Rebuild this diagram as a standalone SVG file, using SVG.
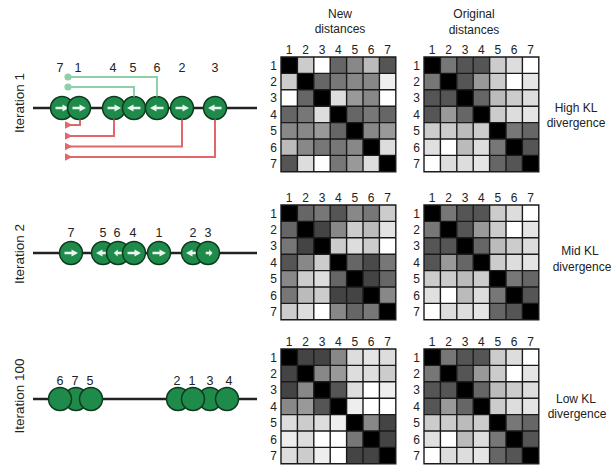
<svg xmlns="http://www.w3.org/2000/svg" xmlns:xlink="http://www.w3.org/1999/xlink" width="611" height="465" viewBox="0 0 611 465">
<style>
text{font-family:"Liberation Sans",Arial,sans-serif;fill:#222}
.lbl{font-size:12.5px;text-anchor:middle}
.num{font-size:12px;text-anchor:middle}
.rn{font-size:12px;text-anchor:end}
.ttl{font-size:12px;text-anchor:middle}
.it{font-size:13.5px;text-anchor:middle}
.axis{stroke:#222;stroke-width:2.5}
.node{fill:#1f8b4b;stroke:#0e3a1e;stroke-width:1.5}
.arw{fill:#e8f4ec}
.gl{fill:none;stroke:#8fd0a8;stroke-width:2}
.rl{fill:none;stroke:#e0676a;stroke-width:2}
.grid{fill:none;stroke:#1a1a1a;stroke-width:1.4}
</style>
<defs>
<rect id="q" width="16.4" height="16.4"/>
<path id="ar" class="arw" d="M-6.5,-1.2 H0.5 V-3.6 L7,0 L0.5,3.6 V1.2 H-6.5 Z"/>
<path id="grid" class="grid" d="M0,0 H114.8 V114.8 H0 Z M16.4,0 V114.8 M32.8,0 V114.8 M49.2,0 V114.8 M65.6,0 V114.8 M82,0 V114.8 M98.4,0 V114.8 M0,16.4 H114.8 M0,32.8 H114.8 M0,49.2 H114.8 M0,65.6 H114.8 M0,82 H114.8 M0,98.4 H114.8"/>
<g id="labels">
<text class="num" x="8.2" y="-3.5">1</text><text class="num" x="24.6" y="-3.5">2</text><text class="num" x="41" y="-3.5">3</text><text class="num" x="57.4" y="-3.5">4</text><text class="num" x="73.8" y="-3.5">5</text><text class="num" x="90.2" y="-3.5">6</text><text class="num" x="106.6" y="-3.5">7</text>
<text class="rn" x="-4" y="12.5">1</text><text class="rn" x="-4" y="28.9">2</text><text class="rn" x="-4" y="45.3">3</text><text class="rn" x="-4" y="61.7">4</text><text class="rn" x="-4" y="78.1">5</text><text class="rn" x="-4" y="94.5">6</text><text class="rn" x="-4" y="110.9">7</text>
</g>
<g id="orig">
<use href="#q" x="0" y="0" fill="#000"/><use href="#q" x="16.4" y="0" fill="#777"/><use href="#q" x="32.8" y="0" fill="#555"/><use href="#q" x="49.2" y="0" fill="#555"/><use href="#q" x="65.6" y="0" fill="#ccc"/><use href="#q" x="82" y="0" fill="#ddd"/><use href="#q" x="98.4" y="0" fill="#fff"/>
<use href="#q" x="0" y="16.4" fill="#777"/><use href="#q" x="16.4" y="16.4" fill="#000"/><use href="#q" x="32.8" y="16.4" fill="#555"/><use href="#q" x="49.2" y="16.4" fill="#999"/><use href="#q" x="65.6" y="16.4" fill="#ccc"/><use href="#q" x="82" y="16.4" fill="#fff"/><use href="#q" x="98.4" y="16.4" fill="#e5e5e5"/>
<use href="#q" x="0" y="32.8" fill="#555"/><use href="#q" x="16.4" y="32.8" fill="#555"/><use href="#q" x="32.8" y="32.8" fill="#000"/><use href="#q" x="49.2" y="32.8" fill="#666"/><use href="#q" x="65.6" y="32.8" fill="#bbb"/><use href="#q" x="82" y="32.8" fill="#ccc"/><use href="#q" x="98.4" y="32.8" fill="#ddd"/>
<use href="#q" x="0" y="49.2" fill="#555"/><use href="#q" x="16.4" y="49.2" fill="#999"/><use href="#q" x="32.8" y="49.2" fill="#666"/><use href="#q" x="49.2" y="49.2" fill="#000"/><use href="#q" x="65.6" y="49.2" fill="#ccc"/><use href="#q" x="82" y="49.2" fill="#ddd"/><use href="#q" x="98.4" y="49.2" fill="#e5e5e5"/>
<use href="#q" x="0" y="65.6" fill="#ccc"/><use href="#q" x="16.4" y="65.6" fill="#ccc"/><use href="#q" x="32.8" y="65.6" fill="#bbb"/><use href="#q" x="49.2" y="65.6" fill="#ccc"/><use href="#q" x="65.6" y="65.6" fill="#000"/><use href="#q" x="82" y="65.6" fill="#777"/><use href="#q" x="98.4" y="65.6" fill="#666"/>
<use href="#q" x="0" y="82" fill="#e0e0e0"/><use href="#q" x="16.4" y="82" fill="#fff"/><use href="#q" x="32.8" y="82" fill="#bbb"/><use href="#q" x="49.2" y="82" fill="#ddd"/><use href="#q" x="65.6" y="82" fill="#777"/><use href="#q" x="82" y="82" fill="#000"/><use href="#q" x="98.4" y="82" fill="#555"/>
<use href="#q" x="0" y="98.4" fill="#fff"/><use href="#q" x="16.4" y="98.4" fill="#ddd"/><use href="#q" x="32.8" y="98.4" fill="#ddd"/><use href="#q" x="49.2" y="98.4" fill="#e5e5e5"/><use href="#q" x="65.6" y="98.4" fill="#666"/><use href="#q" x="82" y="98.4" fill="#555"/><use href="#q" x="98.4" y="98.4" fill="#000"/>
<use href="#grid"/>
<use href="#labels"/>
</g>
</defs>

<text class="ttl" x="340" y="18">New</text>
<text class="ttl" x="340" y="33">distances</text>
<text class="ttl" x="474" y="18">Original</text>
<text class="ttl" x="474" y="34">distances</text>

<!-- Iteration 1 -->
<g id="iteration1">
<text class="it" transform="translate(24,103) rotate(-90)">Iteration 1</text>
<line class="axis" x1="33" y1="108" x2="257" y2="108"/>
<g id="it1-n7"><circle class="node" cx="62" cy="108" r="11.5"/><use href="#ar" transform="translate(62,108)"/><text class="lbl" x="60" y="72">7</text></g>
<g id="it1-n1"><circle class="node" cx="79" cy="108" r="11.5"/><use href="#ar" transform="translate(79,108)"/><text class="lbl" x="78" y="72">1</text></g>
<g id="it1-n4"><circle class="node" cx="114" cy="108" r="11.5"/><use href="#ar" transform="translate(114,108)"/><text class="lbl" x="113" y="72">4</text></g>
<g id="it1-n5"><circle class="node" cx="134" cy="108" r="11.5"/><use href="#ar" transform="translate(134,108) scale(-1,1)"/><text class="lbl" x="133" y="72">5</text></g>
<g id="it1-n6"><circle class="node" cx="157" cy="108" r="11.5"/><use href="#ar" transform="translate(157,108) scale(-1,1)"/><text class="lbl" x="157" y="72">6</text></g>
<g id="it1-n2"><circle class="node" cx="182" cy="108" r="11.5"/><use href="#ar" transform="translate(182,108)"/><text class="lbl" x="182" y="72">2</text></g>
<g id="it1-n3"><circle class="node" cx="215" cy="108" r="11.5"/><use href="#ar" transform="translate(215,108) scale(-1,1)"/><text class="lbl" x="215" y="72">3</text></g>
</g>
<g id="connectors">
<path class="gl" d="M68,77 H157 V96.5 M68,87 H134 V96.5"/>
<circle cx="68" cy="77" r="3.6" fill="#8fd0a8"/>
<circle cx="68" cy="87" r="3.6" fill="#8fd0a8"/>
<path class="rl" d="M70,125 H80 V119.5 M70,136 H114 V119.5 M70,146.5 H182 V119.5 M70,157 H215 V119.5"/>
<g fill="#e0676a">
<polygon points="65,121.3 72.5,125 65,128.7"/>
<polygon points="65,132.3 72.5,136 65,139.7"/>
<polygon points="65,142.8 72.5,146.5 65,150.2"/>
<polygon points="65,153.3 72.5,157 65,160.7"/>
</g>
</g>
<g id="matrix-new-1" transform="translate(281,57)">
<use href="#q" x="0" y="0" fill="#000"/><use href="#q" x="16.4" y="0" fill="#ccc"/><use href="#q" x="32.8" y="0" fill="#fff"/><use href="#q" x="49.2" y="0" fill="#666"/><use href="#q" x="65.6" y="0" fill="#888"/><use href="#q" x="82" y="0" fill="#bbb"/><use href="#q" x="98.4" y="0" fill="#555"/>
<use href="#q" x="0" y="16.4" fill="#ccc"/><use href="#q" x="16.4" y="16.4" fill="#000"/><use href="#q" x="32.8" y="16.4" fill="#666"/><use href="#q" x="49.2" y="16.4" fill="#777"/><use href="#q" x="65.6" y="16.4" fill="#888"/><use href="#q" x="82" y="16.4" fill="#888"/><use href="#q" x="98.4" y="16.4" fill="#eee"/>
<use href="#q" x="0" y="32.8" fill="#fff"/><use href="#q" x="16.4" y="32.8" fill="#666"/><use href="#q" x="32.8" y="32.8" fill="#000"/><use href="#q" x="49.2" y="32.8" fill="#ddd"/><use href="#q" x="65.6" y="32.8" fill="#999"/><use href="#q" x="82" y="32.8" fill="#888"/><use href="#q" x="98.4" y="32.8" fill="#fff"/>
<use href="#q" x="0" y="49.2" fill="#666"/><use href="#q" x="16.4" y="49.2" fill="#777"/><use href="#q" x="32.8" y="49.2" fill="#ddd"/><use href="#q" x="49.2" y="49.2" fill="#000"/><use href="#q" x="65.6" y="49.2" fill="#666"/><use href="#q" x="82" y="49.2" fill="#777"/><use href="#q" x="98.4" y="49.2" fill="#666"/>
<use href="#q" x="0" y="65.6" fill="#888"/><use href="#q" x="16.4" y="65.6" fill="#888"/><use href="#q" x="32.8" y="65.6" fill="#999"/><use href="#q" x="49.2" y="65.6" fill="#666"/><use href="#q" x="65.6" y="65.6" fill="#000"/><use href="#q" x="82" y="65.6" fill="#888"/><use href="#q" x="98.4" y="65.6" fill="#999"/>
<use href="#q" x="0" y="82" fill="#bbb"/><use href="#q" x="16.4" y="82" fill="#888"/><use href="#q" x="32.8" y="82" fill="#777"/><use href="#q" x="49.2" y="82" fill="#777"/><use href="#q" x="65.6" y="82" fill="#888"/><use href="#q" x="82" y="82" fill="#000"/><use href="#q" x="98.4" y="82" fill="#ddd"/>
<use href="#q" x="0" y="98.4" fill="#555"/><use href="#q" x="16.4" y="98.4" fill="#ddd"/><use href="#q" x="32.8" y="98.4" fill="#fff"/><use href="#q" x="49.2" y="98.4" fill="#777"/><use href="#q" x="65.6" y="98.4" fill="#999"/><use href="#q" x="82" y="98.4" fill="#ddd"/><use href="#q" x="98.4" y="98.4" fill="#000"/>
<use href="#grid"/>
<use href="#labels"/>
</g>
<g id="matrix-orig-1" transform="translate(424,57)"><use href="#orig"/></g>
<text class="ttl" x="576" y="112">High KL</text>
<text class="ttl" x="576" y="127">divergence</text>

<!-- Iteration 2 -->
<g id="iteration2">
<text class="it" transform="translate(24,254) rotate(-90)">Iteration 2</text>
<line class="axis" x1="33" y1="253" x2="257" y2="253"/>
<g id="it2-n7"><circle class="node" cx="71" cy="253" r="11.5"/><use href="#ar" transform="translate(71,253)"/><text class="lbl" x="71" y="237">7</text></g>
<g id="it2-n5"><circle class="node" cx="103" cy="253" r="11.5"/><use href="#ar" transform="translate(103,253) scale(-1,1)"/><text class="lbl" x="103" y="237">5</text></g>
<g id="it2-n6"><circle class="node" cx="118" cy="253" r="11.5"/><use href="#ar" transform="translate(118,253) scale(-0.6,1)"/><text class="lbl" x="117" y="237">6</text></g>
<g id="it2-n4"><circle class="node" cx="134" cy="253" r="11.5"/><use href="#ar" transform="translate(134,253)"/><text class="lbl" x="133" y="237">4</text></g>
<g id="it2-n1"><circle class="node" cx="159" cy="253" r="11.5"/><use href="#ar" transform="translate(159,253)"/><text class="lbl" x="159" y="237">1</text></g>
<g id="it2-n2"><circle class="node" cx="193" cy="253" r="11.5"/><use href="#ar" transform="translate(193,253) scale(-1,1)"/><text class="lbl" x="193" y="237">2</text></g>
<g id="it2-n3"><circle class="node" cx="208" cy="253" r="11.5"/><use href="#ar" transform="translate(209,253) scale(0.5,1)"/><text class="lbl" x="208" y="237">3</text></g>
</g>
<g id="matrix-new-2" transform="translate(281,205)">
<use href="#q" x="0" y="0" fill="#000"/><use href="#q" x="16.4" y="0" fill="#666"/><use href="#q" x="32.8" y="0" fill="#777"/><use href="#q" x="49.2" y="0" fill="#555"/><use href="#q" x="65.6" y="0" fill="#888"/><use href="#q" x="82" y="0" fill="#777"/><use href="#q" x="98.4" y="0" fill="#ccc"/>
<use href="#q" x="0" y="16.4" fill="#666"/><use href="#q" x="16.4" y="16.4" fill="#000"/><use href="#q" x="32.8" y="16.4" fill="#444"/><use href="#q" x="49.2" y="16.4" fill="#888"/><use href="#q" x="65.6" y="16.4" fill="#ccc"/><use href="#q" x="82" y="16.4" fill="#bbb"/><use href="#q" x="98.4" y="16.4" fill="#e3e3e3"/>
<use href="#q" x="0" y="32.8" fill="#777"/><use href="#q" x="16.4" y="32.8" fill="#444"/><use href="#q" x="32.8" y="32.8" fill="#000"/><use href="#q" x="49.2" y="32.8" fill="#ccc"/><use href="#q" x="65.6" y="32.8" fill="#ddd"/><use href="#q" x="82" y="32.8" fill="#ccc"/><use href="#q" x="98.4" y="32.8" fill="#fff"/>
<use href="#q" x="0" y="49.2" fill="#555"/><use href="#q" x="16.4" y="49.2" fill="#888"/><use href="#q" x="32.8" y="49.2" fill="#ccc"/><use href="#q" x="49.2" y="49.2" fill="#000"/><use href="#q" x="65.6" y="49.2" fill="#666"/><use href="#q" x="82" y="49.2" fill="#4a4a4a"/><use href="#q" x="98.4" y="49.2" fill="#777"/>
<use href="#q" x="0" y="65.6" fill="#888"/><use href="#q" x="16.4" y="65.6" fill="#ccc"/><use href="#q" x="32.8" y="65.6" fill="#ddd"/><use href="#q" x="49.2" y="65.6" fill="#666"/><use href="#q" x="65.6" y="65.6" fill="#000"/><use href="#q" x="82" y="65.6" fill="#444"/><use href="#q" x="98.4" y="65.6" fill="#666"/>
<use href="#q" x="0" y="82" fill="#777"/><use href="#q" x="16.4" y="82" fill="#bbb"/><use href="#q" x="32.8" y="82" fill="#ccc"/><use href="#q" x="49.2" y="82" fill="#444"/><use href="#q" x="65.6" y="82" fill="#444"/><use href="#q" x="82" y="82" fill="#000"/><use href="#q" x="98.4" y="82" fill="#888"/>
<use href="#q" x="0" y="98.4" fill="#ccc"/><use href="#q" x="16.4" y="98.4" fill="#ddd"/><use href="#q" x="32.8" y="98.4" fill="#fff"/><use href="#q" x="49.2" y="98.4" fill="#888"/><use href="#q" x="65.6" y="98.4" fill="#666"/><use href="#q" x="82" y="98.4" fill="#777"/><use href="#q" x="98.4" y="98.4" fill="#000"/>
<use href="#grid"/>
<use href="#labels"/>
</g>
<g id="matrix-orig-2" transform="translate(424,205)"><use href="#orig"/></g>
<text class="ttl" x="580" y="255">Mid KL</text>
<text class="ttl" x="582" y="271">divergence</text>

<!-- Iteration 100 -->
<g id="iteration100">
<text class="it" transform="translate(24,396) rotate(-90)">Iteration 100</text>
<line class="axis" x1="33" y1="399" x2="257" y2="399"/>
<g id="it100-n7"><circle class="node" cx="76" cy="399" r="11.5"/><text class="lbl" x="75" y="385">7</text></g>
<g id="it100-n6"><circle class="node" cx="60" cy="399" r="11.5"/><text class="lbl" x="60" y="385">6</text></g>
<g id="it100-n5"><circle class="node" cx="91" cy="399" r="11.5"/><text class="lbl" x="90" y="385">5</text></g>
<g id="it100-n2"><circle class="node" cx="178" cy="399" r="11.5"/><text class="lbl" x="177" y="385">2</text></g>
<g id="it100-n3"><circle class="node" cx="210" cy="399" r="11.5"/><text class="lbl" x="210" y="385">3</text></g>
<g id="it100-n1"><circle class="node" cx="193" cy="399" r="11.5"/><text class="lbl" x="192" y="385">1</text></g>
<g id="it100-n4"><circle class="node" cx="227" cy="399" r="11.5"/><text class="lbl" x="229" y="385">4</text></g>
</g>
<g id="matrix-new-3" transform="translate(281,349)">
<use href="#q" x="0" y="0" fill="#000"/><use href="#q" x="16.4" y="0" fill="#444"/><use href="#q" x="32.8" y="0" fill="#444"/><use href="#q" x="49.2" y="0" fill="#888"/><use href="#q" x="65.6" y="0" fill="#ddd"/><use href="#q" x="82" y="0" fill="#e5e5e5"/><use href="#q" x="98.4" y="0" fill="#ddd"/>
<use href="#q" x="0" y="16.4" fill="#444"/><use href="#q" x="16.4" y="16.4" fill="#000"/><use href="#q" x="32.8" y="16.4" fill="#888"/><use href="#q" x="49.2" y="16.4" fill="#999"/><use href="#q" x="65.6" y="16.4" fill="#ddd"/><use href="#q" x="82" y="16.4" fill="#ddd"/><use href="#q" x="98.4" y="16.4" fill="#ccc"/>
<use href="#q" x="0" y="32.8" fill="#444"/><use href="#q" x="16.4" y="32.8" fill="#888"/><use href="#q" x="32.8" y="32.8" fill="#000"/><use href="#q" x="49.2" y="32.8" fill="#555"/><use href="#q" x="65.6" y="32.8" fill="#ddd"/><use href="#q" x="82" y="32.8" fill="#fff"/><use href="#q" x="98.4" y="32.8" fill="#eee"/>
<use href="#q" x="0" y="49.2" fill="#888"/><use href="#q" x="16.4" y="49.2" fill="#999"/><use href="#q" x="32.8" y="49.2" fill="#555"/><use href="#q" x="49.2" y="49.2" fill="#000"/><use href="#q" x="65.6" y="49.2" fill="#eee"/><use href="#q" x="82" y="49.2" fill="#fff"/><use href="#q" x="98.4" y="49.2" fill="#fff"/>
<use href="#q" x="0" y="65.6" fill="#ddd"/><use href="#q" x="16.4" y="65.6" fill="#ccc"/><use href="#q" x="32.8" y="65.6" fill="#ddd"/><use href="#q" x="49.2" y="65.6" fill="#eee"/><use href="#q" x="65.6" y="65.6" fill="#000"/><use href="#q" x="82" y="65.6" fill="#888"/><use href="#q" x="98.4" y="65.6" fill="#444"/>
<use href="#q" x="0" y="82" fill="#eee"/><use href="#q" x="16.4" y="82" fill="#ddd"/><use href="#q" x="32.8" y="82" fill="#fff"/><use href="#q" x="49.2" y="82" fill="#fff"/><use href="#q" x="65.6" y="82" fill="#777"/><use href="#q" x="82" y="82" fill="#000"/><use href="#q" x="98.4" y="82" fill="#444"/>
<use href="#q" x="0" y="98.4" fill="#ddd"/><use href="#q" x="16.4" y="98.4" fill="#ccc"/><use href="#q" x="32.8" y="98.4" fill="#eee"/><use href="#q" x="49.2" y="98.4" fill="#fff"/><use href="#q" x="65.6" y="98.4" fill="#444"/><use href="#q" x="82" y="98.4" fill="#444"/><use href="#q" x="98.4" y="98.4" fill="#000"/>
<use href="#grid"/>
<use href="#labels"/>
</g>
<g id="matrix-orig-3" transform="translate(424,349)"><use href="#orig"/></g>
<text class="ttl" x="576" y="403">Low KL</text>
<text class="ttl" x="577" y="418">divergence</text>
</svg>
